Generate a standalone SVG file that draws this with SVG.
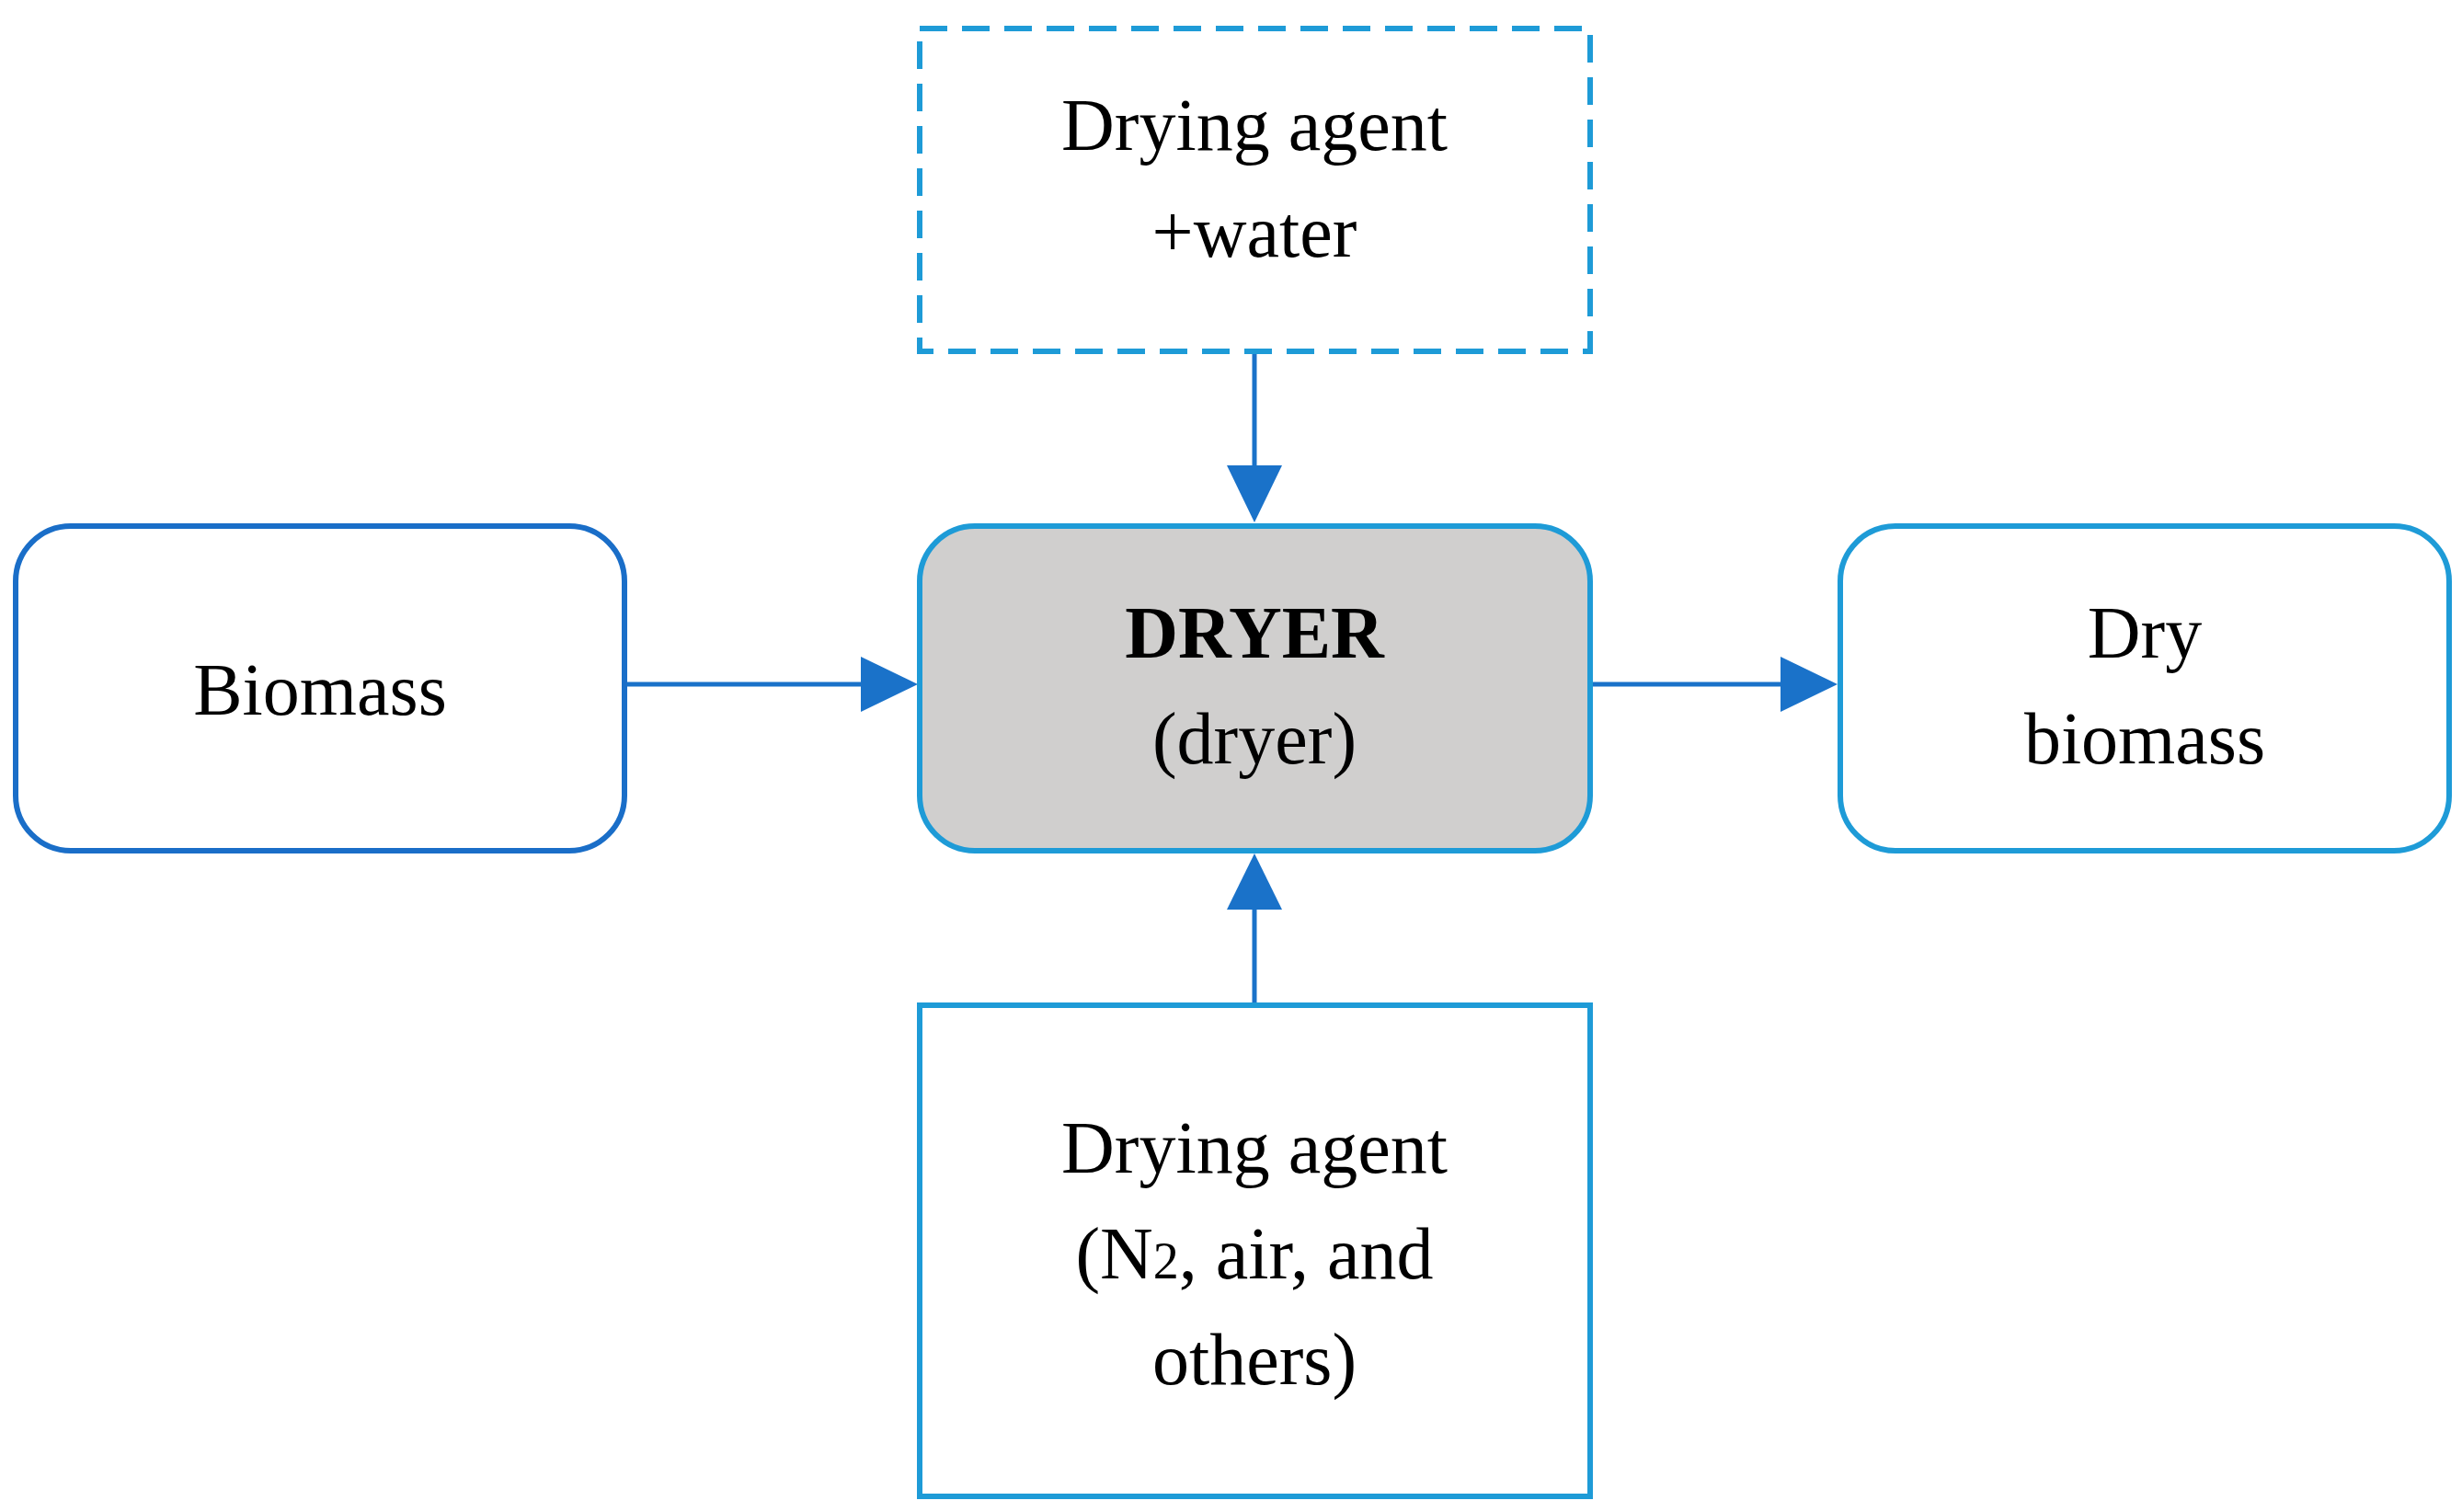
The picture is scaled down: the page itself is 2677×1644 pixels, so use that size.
<svg xmlns="http://www.w3.org/2000/svg" width="2677" height="1644" viewBox="0 0 2677 1644">
<style>
.t{font-family:"Liberation Serif","DejaVu Serif",serif;font-size:80px;fill:#000;text-anchor:middle}
.lb{fill:#fff;stroke:#1e9bd7;stroke-width:6}
.c{stroke:#1a72c9;stroke-width:5;fill:none}
</style>
<defs><marker id="a" markerWidth="12" markerHeight="12" refX="11" refY="6" orient="auto" markerUnits="userSpaceOnUse" viewBox="0 0 12 12"><path d="M0,0L12,6L0,12z" fill="#1a72c9"/></marker></defs>
<rect width="2677" height="1644" fill="#fff"/>
<g id="connectors">
<line class="c" x1="1364" y1="382" x2="1364" y2="510"/><path d="M1334,506L1394,506L1364,568z" fill="#1a72c9"/>
<line class="c" x1="679" y1="744" x2="940" y2="744"/><path d="M936,714L998,744L936,774z" fill="#1a72c9"/>
<line class="c" x1="1729" y1="744" x2="1940" y2="744"/><path d="M1936,714L1998,744L1936,774z" fill="#1a72c9"/>
<line class="c" x1="1364" y1="1093" x2="1364" y2="985"/><path d="M1334,989L1394,989L1364,928z" fill="#1a72c9"/>
</g>
<g id="agent_water"><rect x="1000" y="31" width="729" height="351" fill="#fff" stroke="#1e9bd7" stroke-width="6" stroke-dasharray="30,16"/>
<text class="t" x="1364" y="163">Drying agent</text><text class="t" x="1364" y="279">+water</text></g>
<g id="dryer"><rect x="1000" y="572" width="729" height="353" rx="60" fill="#d0cfce" stroke="#1e9bd7" stroke-width="6"/>
<text class="t" x="1364" y="715" font-weight="bold">DRYER</text><text class="t" x="1364" y="830">(dryer)</text></g>
<g id="biomass"><rect x="17" y="572" width="662" height="353" rx="60" fill="#fff" stroke="#1a6ec8" stroke-width="6"/>
<text class="t" x="348" y="777">Biomass</text></g>
<g id="dry_biomass"><rect class="lb" x="2001" y="572" width="662" height="353" rx="60"/>
<text class="t" x="2332" y="715">Dry</text><text class="t" x="2332" y="830">biomass</text></g>
<g id="agent"><rect class="lb" x="1000" y="1093" width="729" height="534"/>
<text class="t" x="1364" y="1275">Drying agent</text><text class="t" x="1364" y="1390">(N<tspan font-size="56">2</tspan>, air, and</text><text class="t" x="1364" y="1505">others)</text></g>
</svg>
